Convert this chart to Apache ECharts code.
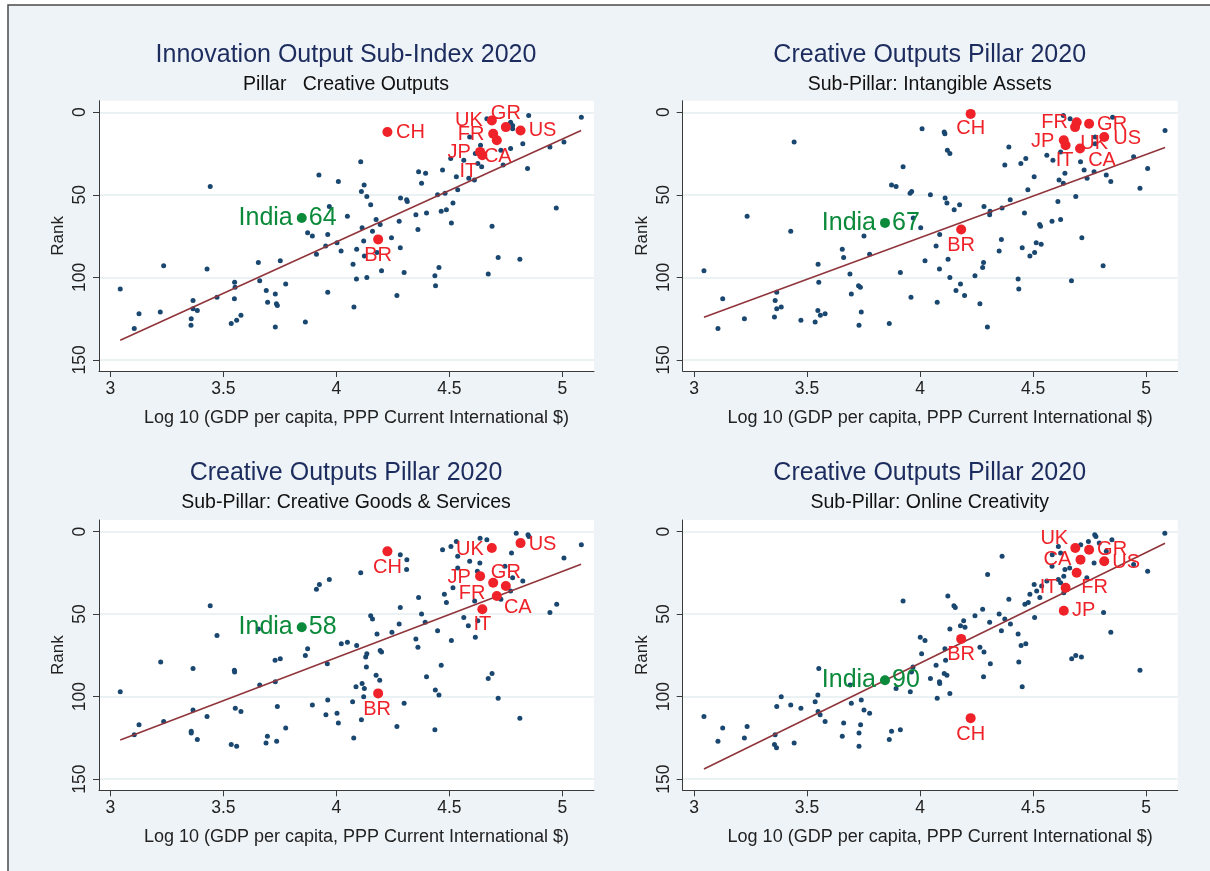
<!DOCTYPE html>
<html><head><meta charset="utf-8">
<script src="https://cdn.jsdelivr.net/npm/echarts@6/dist/echarts.min.js"></script>
<style>html,body{margin:0;padding:0;background:#fff}#c{width:1210px;height:871px}</style>
</head><body><div id="c"></div><script>
const FONT = '"Liberation Sans", Arial, Helvetica, sans-serif';
const xTicks = [3, 3.5, 4, 4.5, 5];
const yTicks = [0, 50, 100, 150];
const mainTitles = ['Innovation Output Sub-Index 2020', 'Creative Outputs Pillar 2020', 'Creative Outputs Pillar 2020', 'Creative Outputs Pillar 2020'];
const subTitles = ['Pillar   Creative Outputs', 'Sub-Pillar: Intangible Assets', 'Sub-Pillar: Creative Goods & Services', 'Sub-Pillar: Online Creativity'];
const xTitle = 'Log 10 (GDP per capita, PPP Current International $)';
const yTitle = 'Rank';

// other countries [log10 GDP pc, rank]
const p1Others = [[3.923,38],[4.009,42],[3.442,45],[3.969,57],[3.873,73],[3.894,75],[3.962,74],[3.953,81],[4.003,79],[3.912,86],[4.021,84],[3.236,93],[3.428,95],[3.655,91],[3.752,90],[3.044,107],[3.661,102],[3.550,103],[3.552,106],[3.776,104],[3.690,108],[3.730,110],[3.962,109],[3.472,112],[3.366,114],[3.549,113],[3.696,115],[3.735,116],[3.739,117],[3.366,119],[3.385,120],[3.127,122],[3.221,121],[3.578,123],[3.358,125],[3.559,126],[3.535,128],[3.357,129],[3.863,127],[3.106,131],[3.730,130],
[4.666,4],[4.771,6],[4.780,8],[4.780,10],[4.851,2],[5.084,3],[4.590,15],[4.638,20],[4.615,25],[4.626,31],[4.643,33],[4.728,23],[4.771,22],[4.825,19],[4.738,32],[4.846,34],[4.945,21],[5.007,18],[4.564,29],[4.506,28],[4.470,35],[4.531,39],[4.586,40],[4.611,41],[4.537,47],[4.364,36],[4.395,37],[4.377,43],[4.108,30],[4.123,44],[4.111,48],[4.135,51],[4.152,56],[4.284,52],[4.311,53],[4.314,54],[4.448,50],[4.481,49],[4.516,55],[4.464,60],[4.487,59],[4.399,61],[4.352,62],[4.509,67],[4.278,66],[4.361,71],[4.049,63],[4.176,65],[4.194,68],[4.114,70],[4.160,72],[4.121,78],[4.180,85],[4.244,76],[4.283,82],[4.090,83],[4.124,87],[4.074,92],[4.200,96],[4.089,101],[4.135,100],[4.300,97],[4.078,118],[4.268,111],[4.454,94],[4.436,99],[4.439,105],[4.672,98],[4.689,69],[4.716,88],[4.812,89],[4.973,58]];
const p2Others = [[4.009,10],[3.443,18],[3.925,33],[3.874,44],[3.894,45],[3.956,49],[3.963,48],[3.970,64],[4.003,70],[3.235,63],[3.428,72],[3.752,75],[3.656,83],[3.662,88],[3.777,86],[4.022,90],[3.044,96],[3.549,92],[3.690,98],[3.913,97],[3.552,103],[3.728,105],[3.736,106],[3.696,110],[3.960,112],[3.127,113],[3.366,109],[3.359,114],[3.366,119],[3.386,118],[3.356,124],[3.223,125],[3.106,131],[3.473,126],[3.536,127],[3.548,120],[3.559,123],[3.580,122],[3.740,121],[3.730,129],[3.864,128],
[4.107,12],[4.110,13],[4.121,23],[4.132,25],[4.046,50],[4.111,52],[4.119,55],[4.151,59],[4.175,56],[4.087,74],[4.071,81],[4.124,89],[4.086,95],[4.132,100],[4.179,104],[4.159,108],[4.197,111],[4.076,115],[4.265,116],[4.298,130],[4.243,99],[4.277,94],[4.281,91],[4.350,84],[4.360,77],[4.283,57],[4.310,60],[4.308,62],[4.363,58],[4.399,53],[4.375,32],[4.393,21],[4.446,31],[4.468,28],[4.505,39],[4.477,47],[4.462,61],[4.529,68],[4.533,69],[4.584,66],[4.622,65],[4.610,54],[4.514,79],[4.536,80],[4.507,85],[4.486,87],[4.452,82],[4.434,101],[4.437,107],[4.670,102],[4.716,76],[4.810,93],[4.689,51],[4.634,2],[4.664,4],[4.852,3],[4.775,15],[4.775,19],[4.561,26],[4.588,29],[4.622,24],[4.641,37],[4.634,43],[4.615,41],[4.710,30],[4.726,35],[4.739,40],[4.770,36],[4.824,38],[4.844,42],[4.945,27],[5.007,34],[4.973,46],[5.084,11]];
const p3Others = [[3.969,29],[3.925,32],[3.912,35],[3.442,45],[3.472,63],[3.655,59],[4.022,68],[3.873,71],[3.863,75],[3.223,79],[3.366,83],[3.549,84],[3.550,85],[3.729,78],[3.752,77],[3.960,80],[3.661,93],[3.730,91],[3.044,97],[3.894,105],[3.962,102],[3.366,108],[3.553,107],[3.578,109],[3.739,106],[3.428,112],[3.236,115],[3.127,117],[3.106,123],[3.358,121],[3.358,122],[3.385,126],[3.535,129],[3.559,130],[3.689,128],[3.736,127],[3.695,124],[3.776,119],[3.954,111],[4.003,110],[4.009,116],
[4.049,67],[4.090,69],[4.108,25],[4.152,51],[4.160,53],[4.180,62],[4.130,76],[4.135,74],[4.133,82],[4.194,72],[4.200,73],[4.176,87],[4.192,90],[4.087,94],[4.114,92],[4.124,95],[4.121,100],[4.072,103],[4.111,114],[4.077,125],[4.268,118],[4.300,104],[4.246,61],[4.278,56],[4.283,46],[4.364,40],[4.377,50],[4.393,55],[4.352,65],[4.361,70],[4.448,60],[4.509,66],[4.464,81],[4.399,88],[4.438,96],[4.454,99],[4.436,120],[4.283,14],[4.312,17],[4.311,23],[4.478,38],[4.487,43],[4.516,34],[4.470,11],[4.507,9],[4.531,6],[4.537,15],[4.537,22],[4.590,18],[4.636,4],[4.666,5],[4.635,19],[4.624,24],[4.612,42],[4.564,52],[4.584,57],[4.626,54],[4.615,64],[4.672,89],[4.689,86],[4.716,101],[4.812,113],[4.796,1],[4.848,2],[4.852,3],[4.775,13],[4.746,21],[4.780,28],[4.825,30],[4.771,36],[4.728,41],[4.945,49],[4.975,44],[5.007,16],[5.084,8]];
const p4Others = [[3.925,42],[4.001,64],[4.022,66],[4.007,74],[3.969,82],[3.962,85],[3.957,97],[3.894,95],[3.552,83],[3.691,93],[3.548,99],[3.536,103],[3.386,100],[3.366,106],[3.428,105],[3.473,107],[3.549,109],[3.558,111],[3.580,115],[3.696,104],[3.740,102],[3.752,108],[3.777,110],[3.662,116],[3.737,117],[3.730,122],[3.656,124],[3.730,130],[3.874,121],[3.913,120],[3.864,126],[3.044,112],[3.127,119],[3.235,118],[3.106,127],[3.223,125],[3.359,123],[3.356,129],[3.365,131],[3.443,128],
[4.046,89],[4.071,81],[4.086,91],[4.087,92],[4.107,86],[4.119,87],[4.132,98],[4.076,101],[4.113,78],[4.110,71],[4.132,59],[4.123,39],[4.150,45],[4.156,46],[4.193,54],[4.179,57],[4.199,58],[4.265,70],[4.283,73],[4.311,80],[4.281,88],[4.243,51],[4.277,47],[4.308,55],[4.299,26],[4.363,15],[4.350,50],[4.360,60],[4.375,53],[4.393,41],[4.400,56],[4.434,62],[4.447,69],[4.468,68],[4.437,79],[4.452,94],[4.464,44],[4.479,43],[4.486,38],[4.507,52],[4.505,32],[4.516,36],[4.530,40],[4.538,33],[4.561,30],[4.585,14],[4.612,9],[4.622,13],[4.584,21],[4.612,29],[4.622,31],[4.636,27],[4.641,23],[4.662,22],[4.636,37],[4.711,8],[4.745,6],[4.773,2],[4.778,3],[4.793,7],[4.824,12],[4.849,5],[4.770,19],[4.738,28],[4.812,49],[4.844,61],[4.671,77],[4.689,75],[4.714,76],[4.973,84],[4.945,20],[5.007,24],[5.083,1]];

// highlighted countries
const p1HiNames = ['UK','GR','US','FR','CA','JP','IT','CH','BR'];
const p1HiPoints = [[4.688,5],[4.750,9],[4.815,11],[4.694,13],[4.710,17],[4.636,24],[4.646,26],[4.226,12],[4.185,77]];
const p2HiNames = ['CH','FR','UK','GR','US','JP','IT','CA','BR'];
const p2HiPoints = [[4.224,1],[4.693,6],[4.686,9],[4.748,7],[4.815,15],[4.636,17],[4.644,20],[4.708,22],[4.182,71]];
const p3HiNames = ['CH','UK','US','JP','FR','GR','CA','IT','BR'];
const p3HiPoints = [[4.226,12],[4.688,10],[4.815,7],[4.636,27],[4.694,31],[4.750,33],[4.710,39],[4.646,47],[4.185,98]];
const p4HiNames = ['UK','GR','CA','US','FR','IT','JP','BR','CH'];
const p4HiPoints = [[4.687,10],[4.748,11],[4.710,17],[4.815,18],[4.693,25],[4.644,34],[4.636,48],[4.182,65],[4.224,113]];

const indiaPoints = [[3.847,64],[3.845,67],[3.847,58],[3.845,90]];
const indiaRanks = ['64','67','58','90'];

// fitted lines (endpoints)
const p1Fit = [[3.044,138.1],[5.083,11.1]];
const p2Fit = [[3.044,124.2],[5.084,21.4]];
const p3Fit = [[3.044,126.2],[5.083,19.8]];
const p4Fit = [[3.044,143.8],[5.084,7.1]];

// label placement (style)
const labelOffsets = [
  {UK:[-23,0],GR:[0,-14],US:[22,0],FR:[-22,1],CA:[1,16],JP:[-21,1],IT:[-14,16],CH:[23,0],BR:[0,16]},
  {CH:[0,15],FR:[-22,0],UK:[19,16],GR:[23,1],US:[23,1],JP:[-21,1],IT:[-1,15],CA:[22,12],BR:[0,16]},
  {CH:[0,16],UK:[-22,1],US:[22,1],JP:[-21,1],FR:[-21,11],GR:[0,-14],CA:[21,12],IT:[0,15],BR:[-1,16]},
  {UK:[-21,-10],GR:[23,0],CA:[-23,0],US:[22,1],FR:[18,15],IT:[-17,0],JP:[20,0],BR:[0,16],CH:[0,16]}
];

const others = [p1Others, p2Others, p3Others, p4Others];
const hiNames = [p1HiNames, p2HiNames, p3HiNames, p4HiNames];
const hiPoints = [p1HiPoints, p2HiPoints, p3HiPoints, p4HiPoints];
const fits = [p1Fit, p2Fit, p3Fit, p4Fit];

const gridPos = [[99,100.7],[682.7,100.7],[99,520],[682.7,520]];
const GW = 495, GH = 270.3;
const NAVY = '#1a476f', RED = '#ee2228', GREEN = '#0a8a3a', MAROON = '#90353b';

const grid = [], xAxis = [], yAxis = [], series = [], texts = [];
for (let i = 0; i < 4; i++) {
  const [gl, gt] = gridPos[i];
  grid.push({left: gl, top: gt, width: GW, height: GH, show: true, backgroundColor: '#ffffff', borderWidth: 0, containLabel: false, outerBoundsMode: 'none'});
  xAxis.push({
    gridIndex: i, type: 'value', min: 2.95, max: 5.14,
    axisLine: {onZero: false, lineStyle: {color: '#3a3a3a', width: 1}},
    axisTick: {customValues: xTicks, length: 6, lineStyle: {color: '#3a3a3a'}},
    axisLabel: {customValues: xTicks, fontSize: 17.5, color: '#222', margin: 9, fontFamily: FONT, formatter: v => String(v)},
    splitLine: {show: false},
    name: xTitle, nameLocation: 'middle', nameGap: 38,
    nameTextStyle: {fontSize: 18, color: '#222', fontFamily: FONT, padding: [0, 0, 0, 20]}
  });
  yAxis.push({
    gridIndex: i, type: 'value', inverse: true, min: -7, max: 156.7,
    axisLine: {onZero: false, lineStyle: {color: '#3a3a3a', width: 1}},
    axisTick: {customValues: yTicks, length: 6, lineStyle: {color: '#3a3a3a'}},
    axisLabel: {customValues: yTicks, rotate: 90, fontSize: 17.5, color: '#222', margin: 10, fontFamily: FONT},
    splitLine: {show: true, lineStyle: {color: '#e4eef1', width: 1.5}},
    name: yTitle, nameLocation: 'middle', nameRotate: 90, nameGap: 32,
    nameTextStyle: {fontSize: 17, color: '#222', fontFamily: FONT}
  });
  series.push({
    type: 'scatter', xAxisIndex: i, yAxisIndex: i, data: others[i],
    symbolSize: 5, itemStyle: {color: NAVY, opacity: 1}, z: 2, silent: true
  });
  series.push({
    type: 'line', xAxisIndex: i, yAxisIndex: i, data: fits[i],
    symbol: 'none', lineStyle: {color: MAROON, width: 1.6}, z: 3, silent: true
  });
  series.push({
    type: 'scatter', xAxisIndex: i, yAxisIndex: i, z: 4, silent: true,
    symbolSize: 10, itemStyle: {color: RED, opacity: 1},
    label: {show: true, position: 'inside', formatter: '{b}', fontSize: 20, color: RED, opacity: 1, textBorderWidth: 0, fontFamily: FONT},
    data: hiNames[i].map((n, k) => ({name: n, value: hiPoints[i][k], label: {offset: labelOffsets[i][n]}}))
  });
  series.push({
    type: 'scatter', xAxisIndex: i, yAxisIndex: i, z: 5, silent: true,
    symbolSize: 10, itemStyle: {color: GREEN, opacity: 1},
    label: {show: true, position: 'left', distance: 4, formatter: 'India', fontSize: 25, color: GREEN, opacity: 1, textBorderWidth: 0, fontFamily: FONT},
    data: [indiaPoints[i]]
  });
  series.push({
    type: 'scatter', xAxisIndex: i, yAxisIndex: i, z: 5, silent: true,
    symbolSize: 10, itemStyle: {color: 'rgba(0,0,0,0)', opacity: 1},
    label: {show: true, position: 'right', distance: 2, formatter: indiaRanks[i], fontSize: 25, color: GREEN, opacity: 1, textBorderWidth: 0, fontFamily: FONT},
    data: [indiaPoints[i]]
  });
  const cx = gl + 247;
  const ty = i < 2 ? 55 : 473;
  texts.push({type: 'text', z: 100, style: {x: cx, y: ty, text: mainTitles[i], fill: '#1c2c5e', font: '25px ' + FONT, textAlign: 'center', textVerticalAlign: 'middle'}});
  texts.push({type: 'text', z: 100, style: {x: cx, y: ty + 30, text: subTitles[i], fill: '#111', font: '19.5px ' + FONT, textAlign: 'center', textVerticalAlign: 'middle'}});
}

const chart = echarts.init(document.getElementById('c'), null, {renderer: 'canvas'});
chart.setOption({
  animation: false,
  backgroundColor: '#ffffff',
  graphic: {elements: [
    {type: 'rect', z: -100, shape: {x: 8, y: 5, width: 1220, height: 890}, style: {fill: '#eef3f7', stroke: '#4a4a4a', lineWidth: 1.5}},
    ...texts
  ]},
  grid, xAxis, yAxis, series
});
</script></body></html>
